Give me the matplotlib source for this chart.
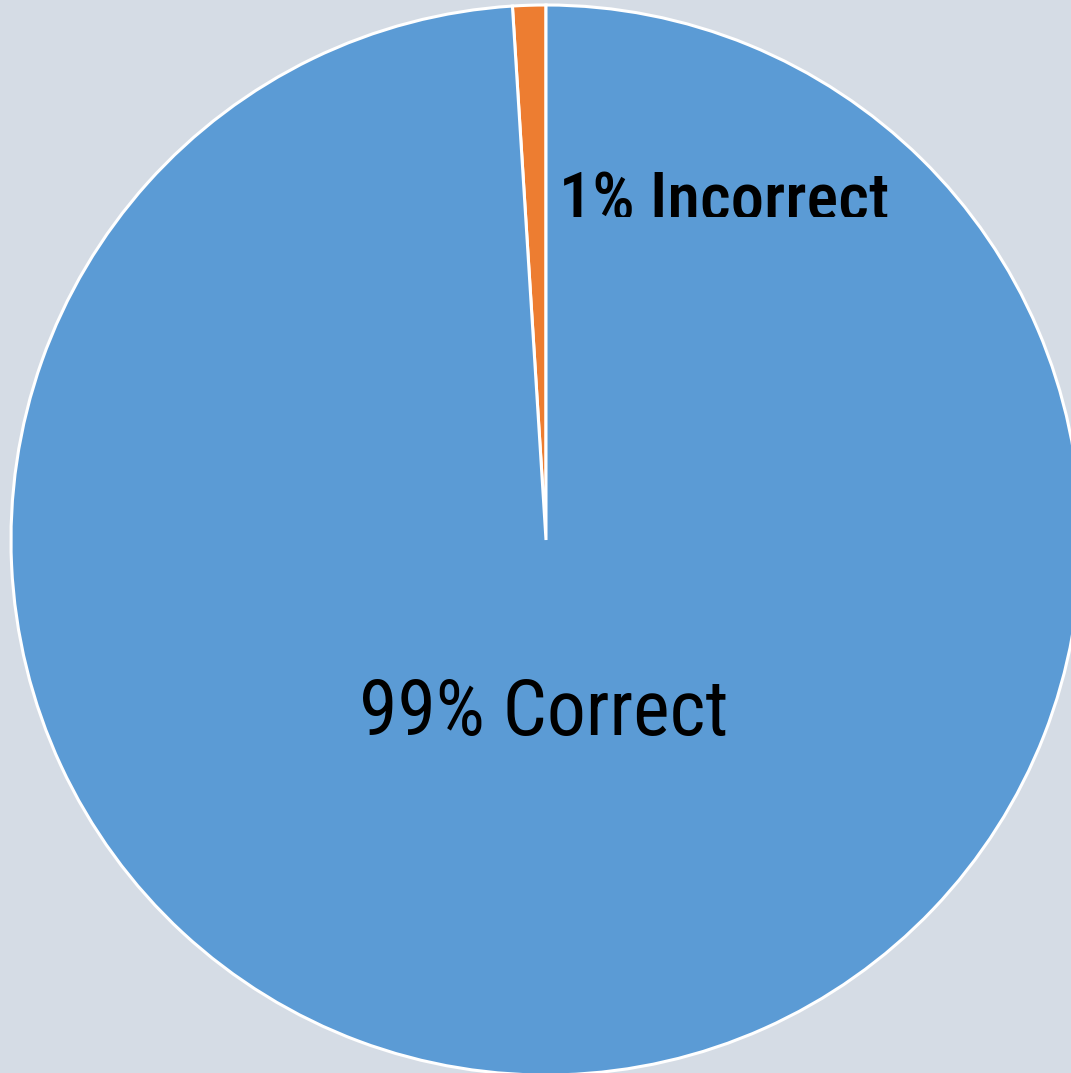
import matplotlib
matplotlib.use("Agg")
import matplotlib.pyplot as plt
from matplotlib.transforms import Bbox, TransformedBbox

labels = ["Incorrect", "Correct"]
values = [1, 99]
colors = ["#ED7D31", "#5B9BD5"]

W, H, DPI = 1071, 1073, 100
fig = plt.figure(figsize=(W / DPI, H / DPI), dpi=DPI)
fig.patch.set_facecolor("#D5DCE5")
ax = fig.add_axes([0, 0, 1, 1])
ax.set_facecolor("#D5DCE5")

cx, cy, R = 546, 540, 535
ax.pie(values, colors=colors, startangle=90, counterclock=True, radius=1,
       wedgeprops=dict(edgecolor="white", linewidth=2.2))
ax.set_xlim(-cx / R, (W - cx) / R)
ax.set_ylim(-(H - cy) / R, cy / R)
ax.set_aspect("equal")
ax.axis("off")

def px(x, y):
    return (x - cx) / R, (cy - y) / R

fam = ["Roboto Condensed", "Liberation Sans", "DejaVu Sans"]
tx, ty = px(559, 220)
t1 = ax.text(tx, ty, f"{values[0]}% {labels[0]}", fontsize=48, family=fam,
             fontweight="medium", ha="left", va="baseline", color="black")
x0, y0 = px(540, 217)
x1, y1 = px(1071, 100)
t1.set_clip_path(None)
t1.set_clip_box(TransformedBbox(Bbox.from_extents(x0, y0, x1, y1), ax.transData))
t1.set_clip_on(True)

tx2, ty2 = px(544, 735)
ax.text(tx2, ty2, f"{values[1]}% {labels[1]}", fontsize=56, family=fam,
        fontweight="normal", ha="center", va="baseline", color="black")

fig.savefig("out.png", dpi=DPI, facecolor=fig.get_facecolor())
